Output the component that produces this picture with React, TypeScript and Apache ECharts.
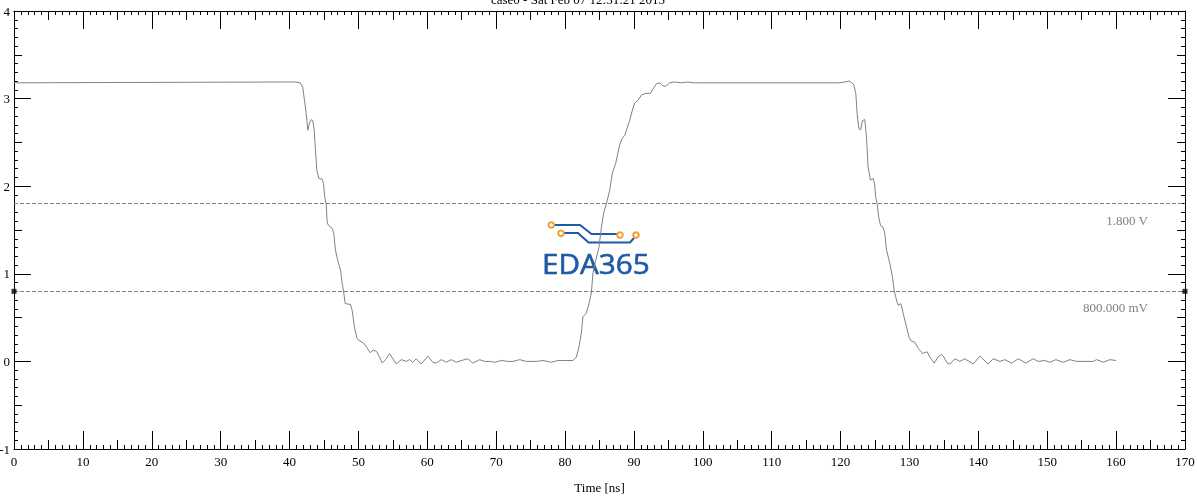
import React, { useEffect, useRef } from 'react';
import * as echarts from 'echarts';

// waveform samples (time in ns, voltage in V)
const timeNs = [
  0, 40.86, 41.55, 41.92, 42.17, 42.42, 42.65, 42.9, 43.14, 43.38, 43.58, 43.77, 43.96, 44.25, 44.74,
  44.93, 45.12, 45.32, 45.47, 45.7, 46.19, 46.43, 46.67, 47.01, 47.4, 47.65, 47.88, 48.08, 48.85,
  49.1, 49.43, 49.77, 50.06, 50.74, 51.22, 51.71, 52.19, 52.67, 53.06, 53.46, 53.94, 54.52, 55.49,
  56.22, 56.94, 57.42, 57.9, 58.4, 59.12, 60.08, 60.81, 61.3, 62.03, 62.75, 63.48, 64.21, 64.93,
  65.89, 66.62, 67.59, 68.32, 69.04, 69.77, 70.74, 71.7, 72.43, 73.4, 74.37, 75.83, 76.79, 78.01,
  78.97, 80.19, 81.15, 81.64, 82.01, 82.36, 82.6, 83.09, 83.47, 83.82, 84.05, 84.44, 84.92, 85.27,
  85.6, 86.0, 86.47, 86.87, 87.35, 87.68, 87.93, 88.32, 88.66, 88.99, 89.38, 89.78, 90.11, 90.59,
  91.08, 91.71, 92.39, 92.77, 93.26, 93.74, 94.13, 94.61, 95.19, 95.92, 96.89, 97.85, 98.58, 99.55,
  119.88, 121.33, 121.91, 122.21, 122.4, 122.64, 122.89, 123.18, 123.51, 123.76, 123.99, 124.34,
  124.72, 124.92, 125.11, 125.3, 125.55, 125.8, 126.17, 126.42, 126.67, 127.15, 127.54, 127.77,
  128.12, 128.36, 128.75, 129.08, 129.58, 129.96, 130.31, 130.78, 131.26, 131.9, 132.57, 132.96,
  133.58, 134.16, 134.66, 134.99, 135.47, 135.87, 136.59, 137.32, 138.04, 139.25, 140.22, 141.43,
  142.15, 143.13, 143.85, 144.83, 145.79, 146.9, 147.96, 148.69, 149.66, 150.39, 151.26, 152.32,
  153.29, 154.27, 156.68, 157.17, 158.13, 159.1, 160.0,
];
const voltage = [
  3.18, 3.19, 3.18, 3.13, 2.98, 2.83, 2.64, 2.72, 2.76, 2.75, 2.64, 2.41, 2.18, 2.09, 2.08,
  2.03, 1.87, 1.8, 1.58, 1.55, 1.52, 1.46, 1.27, 1.15, 1.04, 0.89, 0.78, 0.66, 0.65,
  0.58, 0.39, 0.27, 0.24, 0.21, 0.16, 0.1, 0.13, 0.11, 0.05, -0.02, 0.02, 0.09, -0.03,
  0.02, 0.0, 0.02, -0.01, 0.03, -0.03, 0.06, -0.01, -0.02, 0.02, -0.01, 0.02, -0.01, 0.01,
  0.03, -0.02, 0.02, 0.0, 0.0, -0.01, 0.01, 0.0, 0.0, 0.02, 0.0, 0.0, 0.01, -0.01,
  0.01, 0.01, 0.01, 0.05, 0.16, 0.32, 0.51, 0.55, 0.66, 0.78, 1.01, 1.15, 1.3, 1.53,
  1.69, 1.8, 1.95, 2.15, 2.26, 2.38, 2.47, 2.55, 2.58, 2.66, 2.75, 2.87, 2.95, 2.98,
  3.04, 3.06, 3.06, 3.11, 3.17, 3.18, 3.15, 3.14, 3.18, 3.19, 3.18, 3.19, 3.18, 3.18,
  3.18, 3.2, 3.16, 3.06, 2.83, 2.66, 2.64, 2.75, 2.76, 2.56, 2.22, 2.07,
  2.09, 2.03, 1.87, 1.8, 1.64, 1.55, 1.53, 1.46, 1.27, 1.12, 0.96, 0.81,
  0.7, 0.64, 0.66, 0.55, 0.39, 0.27, 0.23, 0.22, 0.15, 0.09, 0.11, 0.05,
  -0.02, 0.05, 0.08, 0.05, -0.02, -0.03, 0.03, 0.0, 0.03, -0.03, 0.06, -0.03,
  0.03, 0.0, 0.02, -0.02, 0.03, -0.02, 0.03, 0.0, 0.01, -0.01, 0.02, -0.01,
  0.02, 0.0, 0.0, 0.02, -0.01, 0.02, 0.01,
];

const refLevels = [1.8, 0.8];
const refLabels = ['1.800 V', '800.000 mV'];
const markerLevel = 0.8;
const xRange = [0, 170];
const yRange = [-1, 4];
const titleText = 'case0 - Sat Feb 07 12:31:21 2015';
const xName = 'Time [ns]';
const logoText = 'EDA365';

const SERIF = 'Liberation Serif';
const BLACK = '#000';
const GRAY = '#808080';

function mkAxis(kind: 'x' | 'y', position: string, interval: number, len: number, main: boolean, minorSplit: number, labels: boolean, minorLen: number) {
  const range = kind === 'x' ? xRange : yRange;
  return {
    type: 'value',
    gridIndex: 0,
    position,
    min: range[0],
    max: range[1],
    interval,
    axisLine: { show: main, onZero: false, lineStyle: { color: BLACK, width: 1 } },
    axisTick: { show: true, inside: true, length: len, lineStyle: { color: BLACK, width: 1 } },
    minorTick: { show: minorSplit > 0, splitNumber: minorSplit || 5, length: minorLen, lineStyle: { color: BLACK, width: 1 } },
    splitLine: { show: false },
    minorSplitLine: { show: false },
    axisLabel: {
      show: labels,
      color: BLACK,
      fontFamily: SERIF,
      fontSize: 13,
      margin: kind === 'x' ? 6 : 4,
      showMinLabel: true,
      showMaxLabel: true,
    },
  };
}

export default function App() {
  const ref = useRef<HTMLDivElement>(null);
  useEffect(() => {
    if (!ref.current) return;
    const chart = echarts.init(ref.current, undefined, { renderer: 'svg' });
    const data = timeNs.map((t, i) => [t, voltage[i]]);
    const xMain: any = mkAxis('x', 'bottom', 10, 18, true, 10, true, 4);
    xMain.name = xName;
    xMain.nameLocation = 'middle';
    xMain.nameGap = 32;
    xMain.nameTextStyle = { color: BLACK, fontFamily: SERIF, fontSize: 13 };

    const blue = '#1d5ba6';
    const orange = '#f0a030';
    chart.setOption({
      animation: false,
      grid: { left: 14, right: 12, top: 11, bottom: 48, containLabel: false, outerBoundsMode: 'none' },
      xAxis: [
        xMain,
        mkAxis('x', 'bottom', 5, 9, false, 0, false, 4),
        mkAxis('x', 'top', 10, 18, true, 10, false, 4),
        mkAxis('x', 'top', 5, 9, false, 0, false, 4),
      ],
      yAxis: [
        mkAxis('y', 'left', 1, 17, true, 10, true, 4),
        mkAxis('y', 'left', 0.5, 8, false, 0, false, 4),
        mkAxis('y', 'right', 1, 17, true, 10, false, 4),
        mkAxis('y', 'right', 0.5, 8, false, 0, false, 4),
      ],
      graphic: [
        {
          type: 'text',
          x: 578,
          y: 6,
          z: 10,
          style: { text: titleText, fill: BLACK, font: `13px "${SERIF}"`, textAlign: 'center', textVerticalAlign: 'bottom' },
        },
        {
          type: 'group',
          z: 0,
          children: [
            { type: 'polyline', shape: { points: [[554.5, 225], [580, 225], [591.5, 234], [617, 234]] }, style: { stroke: blue, lineWidth: 2, fill: null } },
            { type: 'polyline', shape: { points: [[564, 233], [578, 233], [588.5, 242.5], [630, 242.5], [634, 238]] }, style: { stroke: blue, lineWidth: 2, fill: null } },
            { type: 'circle', shape: { cx: 551.3, cy: 225, r: 2.8 }, style: { fill: '#fff', stroke: orange, lineWidth: 2 } },
            { type: 'circle', shape: { cx: 561, cy: 233.3, r: 2.8 }, style: { fill: '#fff', stroke: orange, lineWidth: 2 } },
            { type: 'circle', shape: { cx: 620, cy: 235, r: 2.8 }, style: { fill: '#fff', stroke: orange, lineWidth: 2 } },
            { type: 'circle', shape: { cx: 636, cy: 235, r: 2.8 }, style: { fill: '#fff', stroke: orange, lineWidth: 2 } },
            {
              type: 'text', x: 542, y: 264, scaleX: 1.1,
              style: { text: logoText, fill: blue, stroke: blue, lineWidth: 0.6, font: '27px "Open Sans"', textAlign: 'left', textVerticalAlign: 'middle' },
            },
          ],
        },
      ],
      series: [
        {
          type: 'line',
          xAxisIndex: 0,
          yAxisIndex: 0,
          data,
          showSymbol: false,
          symbol: 'none',
          z: 5,
          lineStyle: { color: GRAY, width: 1 },
          markLine: {
            silent: true,
            symbol: 'none',
            lineStyle: { color: GRAY, type: 'dashed', width: 1 },
            label: {
              show: true,
              position: 'insideEndBottom',
              color: GRAY,
              fontFamily: SERIF,
              fontSize: 13,
              padding: [5, 32, 0, 0],
            },
            data: refLevels.map((v, i) => ({ yAxis: v, label: { formatter: refLabels[i] } })),
          },
        },
        {
          type: 'scatter',
          xAxisIndex: 0,
          yAxisIndex: 0,
          clip: false,
          symbol: 'rect',
          symbolSize: 5,
          itemStyle: { color: BLACK },
          z: 6,
          data: [[xRange[0], markerLevel], [xRange[1], markerLevel]],
        },
      ],
    });
    return () => chart.dispose();
  }, []);
  return <div ref={ref} style={{ position: 'fixed', left: 0, top: 0, width: 1197, height: 497 }} />;
}
